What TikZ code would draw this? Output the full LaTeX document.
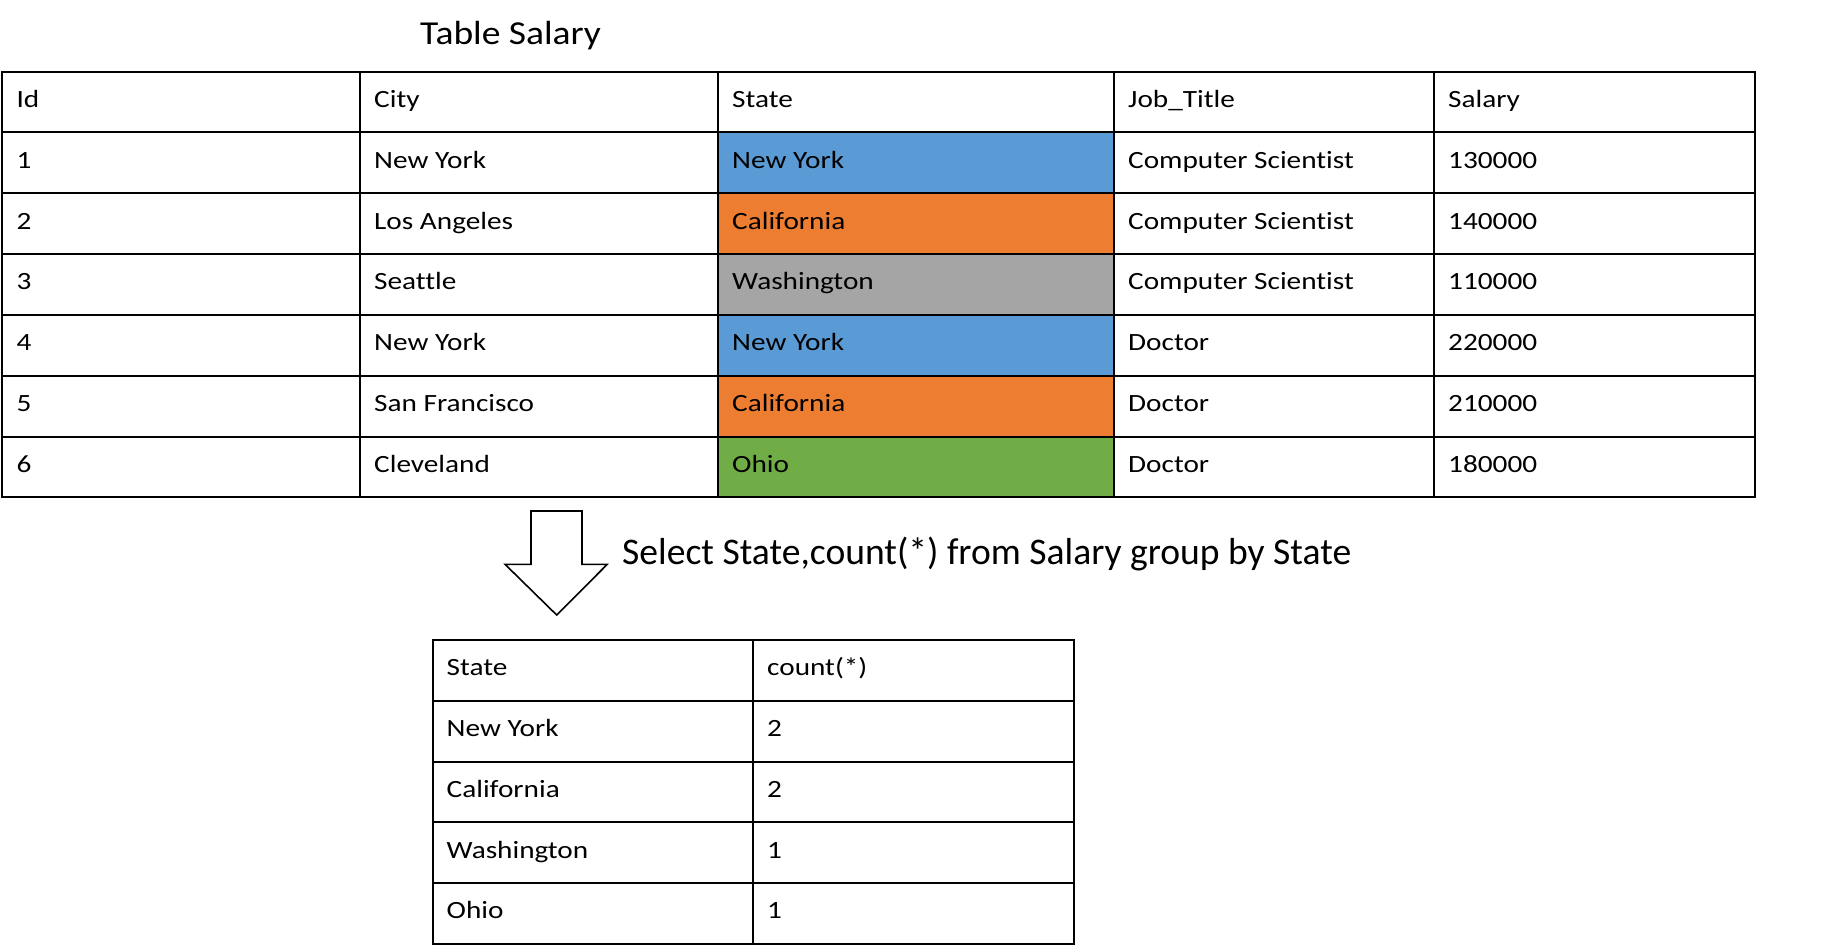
\documentclass[tikz,border=0pt]{standalone}
\usepackage{fontspec}
\setmainfont{Carlito}[Ligatures={NoCommon}]
\newfontfamily\cellfont{Carlito}[FakeStretch=1.18,Ligatures={NoCommon}]
\newfontfamily\titlefont{Carlito}[FakeStretch=1.12,Ligatures={NoCommon}]
\usetikzlibrary{calc}
\definecolor{nyblue}{RGB}{91,155,213}
\definecolor{caorange}{RGB}{237,125,49}
\definecolor{wagray}{RGB}{165,165,165}
\definecolor{ohgreen}{RGB}{112,173,71}
\tikzset{
  cellbox/.style={draw=black, line width=2pt, rectangle, inner sep=0pt, outer sep=0pt, anchor=north west, minimum height=60.8pt},
  celltext/.style={inner sep=0pt, anchor=base west, font=\cellfont\fontsize{24.8}{28}\selectfont},
  titletext/.style={inner sep=0pt, anchor=base west, font=\titlefont\fontsize{33.5}{38}\selectfont},
  sqltext/.style={inner sep=0pt, anchor=base west, font=\fontsize{37.6}{42}\selectfont},
  blockarrow/.style={draw=black, line width=1.6pt, fill=white, line join=miter},
}
\newcommand\mycell[6]{%
  \node[cellbox, fill=#5, minimum width=#4pt] (#1) at (#2,#3) {};
  \node[celltext] (#1t) at (#2+14,#3+35.7) {#6};
}
\begin{document}
\begin{tikzpicture}[x=1pt,y=-1pt]
\useasboundingbox[fill=white] (0,0) rectangle (1840,947);
% title
\node[titletext] (title) at (420,44.3) {Table Salary};
% table 1 header
\mycell{hA}{2.3}{71.7}{357.7}{white}{Id}
\mycell{hB}{360}{71.7}{358}{white}{City}
\mycell{hC}{718}{71.7}{396}{white}{State}
\mycell{hD}{1114}{71.7}{320}{white}{Job\_Title}
\mycell{hE}{1434}{71.7}{320.6}{white}{Salary}
\foreach \r/\id/\city/\st/\stc/\job/\sal in {
  1/1/New York/New York/nyblue/Computer Scientist/130000,
  2/2/Los Angeles/California/caorange/Computer Scientist/140000,
  3/3/Seattle/Washington/wagray/Computer Scientist/110000,
  4/4/New York/New York/nyblue/Doctor/220000,
  5/5/San Francisco/California/caorange/Doctor/210000,
  6/6/Cleveland/Ohio/ohgreen/Doctor/180000}{
  \pgfmathsetmacro\yy{71.7+\r*60.8}
  \mycell{r\r A}{2.3}{\yy}{357.7}{white}{\id}
  \mycell{r\r B}{360}{\yy}{358}{white}{\city}
  \mycell{r\r C}{718}{\yy}{396}{\stc}{\st}
  \mycell{r\r D}{1114}{\yy}{320}{white}{\job}
  \mycell{r\r E}{1434}{\yy}{320.6}{white}{\sal}
}
% arrow
\draw[blockarrow] (531,511) -- (582,511) -- (582,564.3) -- (607.3,564.3) -- (556.7,615) -- (505,564.3) -- (531,564.3) -- cycle;
\node[sqltext] (sql) at (622,564.3) {Select State,count(*) from Salary group by State};
% table 2
\mycell{gA}{432.5}{640}{320.5}{white}{State}
\mycell{gB}{753}{640}{321}{white}{count(*)}
\foreach \r/\st/\n in {1/New York/2, 2/California/2, 3/Washington/1, 4/Ohio/1}{
  \pgfmathsetmacro\yy{640+\r*60.8}
  \mycell{s\r A}{432.5}{\yy}{320.5}{white}{\st}
  \mycell{s\r B}{753}{\yy}{321}{white}{\n}
}
\end{tikzpicture}
\end{document}
